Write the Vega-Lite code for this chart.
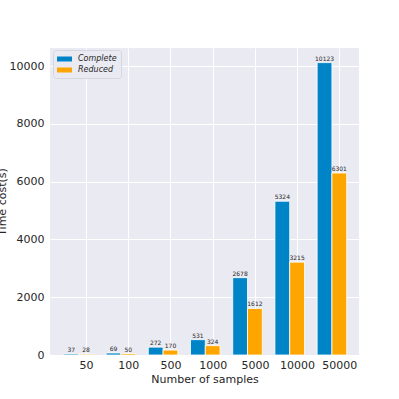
{
  "$schema": "https://vega.github.io/schema/vega-lite/v6.json",
  "width": 309,
  "height": 307,
  "autosize": {"type": "none"},
  "padding": {"left": 50, "top": 48, "right": 40, "bottom": 44},
  "background": "white",
  "config": {
    "font": "DejaVu Sans",
    "view": {"fill": "#EAEAF2", "stroke": null},
    "axis": {"domain": false, "ticks": false, "gridColor": "#FFFFFF", "gridWidth": 1, "labelColor": "#262626", "titleColor": "#262626", "labelFontSize": 11, "titleFontSize": 11, "titleFontWeight": "normal", "labelFont": "DejaVu Sans", "titleFont": "DejaVu Sans"}
  },
  "data": {
    "values": [
      {"samples": "50", "series": "Complete", "value": 37},
      {"samples": "50", "series": "Reduced", "value": 28},
      {"samples": "100", "series": "Complete", "value": 69},
      {"samples": "100", "series": "Reduced", "value": 50},
      {"samples": "500", "series": "Complete", "value": 272},
      {"samples": "500", "series": "Reduced", "value": 170},
      {"samples": "1000", "series": "Complete", "value": 531},
      {"samples": "1000", "series": "Reduced", "value": 324},
      {"samples": "5000", "series": "Complete", "value": 2678},
      {"samples": "5000", "series": "Reduced", "value": 1612},
      {"samples": "10000", "series": "Complete", "value": 5324},
      {"samples": "10000", "series": "Reduced", "value": 3215},
      {"samples": "50000", "series": "Complete", "value": 10123},
      {"samples": "50000", "series": "Reduced", "value": 6301}
    ]
  },
  "encoding": {
    "x": {
      "field": "samples", "type": "ordinal",
      "sort": ["50", "100", "500", "1000", "5000", "10000", "50000"],
      "scale": {"paddingInner": 0.3, "paddingOuter": 0.31, "align": 0.53},
      "axis": {"title": "Number of samples", "labelAngle": 0, "tickOffset": 7.4, "labelPadding": 4, "titlePadding": 3, "grid": true, "tickBand": "center"}
    },
    "xOffset": {"field": "series", "type": "nominal", "sort": ["Complete", "Reduced"], "scale": {"paddingInner": 0, "paddingOuter": 0}},
    "y": {
      "field": "value", "type": "quantitative",
      "scale": {"domain": [0, 10629], "nice": false, "zero": true},
      "axis": {"title": "Time cost(s)", "format": "d", "values": [0, 2000, 4000, 6000, 8000, 10000], "labelPadding": 6, "titlePadding": 2, "grid": true}
    }
  },
  "layer": [
    {
      "mark": {"type": "bar", "stroke": "white", "strokeWidth": 0.8},
      "encoding": {
        "color": {
          "field": "series", "type": "nominal",
          "scale": {"domain": ["Complete", "Reduced"], "range": ["#0084C8", "#FFA500"]},
          "legend": {
            "title": null, "orient": "none", "legendX": 3, "legendY": 2,
            "symbolType": "M-1,-0.5H2V0.5H-1Z", "symbolSize": 100, "symbolStrokeWidth": 0,
            "labelFontSize": 8, "labelFontStyle": "italic", "labelColor": "#262626", "labelOffset": 11,
            "rowPadding": 2, "padding": 4, "fillColor": "#EAEAF2", "strokeColor": "#D6D6DE", "cornerRadius": 3
          }
        }
      }
    },
    {
      "mark": {"type": "text", "fontSize": 6, "color": "#262626", "baseline": "alphabetic", "dy": -2},
      "encoding": {"text": {"field": "value", "type": "quantitative", "format": "d"}}
    }
  ]
}
